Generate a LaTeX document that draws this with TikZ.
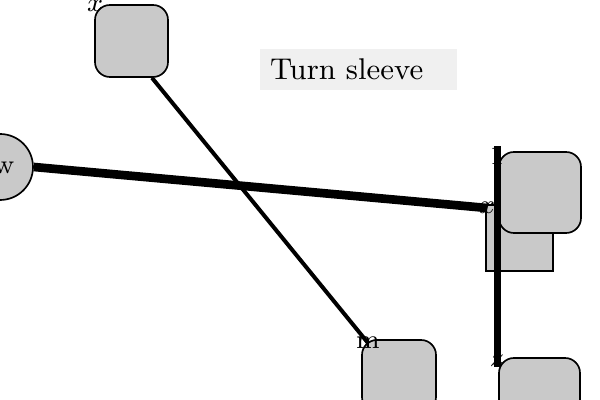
\documentclass[tikz,border=0pt]{standalone}
\usetikzlibrary{calc}
\begin{document}
\begin{tikzpicture}[x=0.3pt,y=-0.3pt,
  box/.style={draw=black,line width=0.5pt,fill=black!21,rounded corners=4.5pt,inner sep=0pt},
  plainbox/.style={draw=black,line width=0.5pt,fill=black!21,inner sep=0pt},
  lab/.style={inner sep=0pt,font=\fontsize{8}{9}\selectfont},
  conn/.style={line width=#1,draw=black}]
\useasboundingbox (0,0) rectangle (600,400);
% nodes
\node[box,minimum width=21.9pt,minimum height=21.6pt] (A) at (131.5,41) {};
\node[draw=black,line width=0.5pt,fill=black!21,circle,minimum size=19.8pt,inner sep=0pt] (W) at (0,167) {};
\node[plainbox,minimum width=20.1pt,minimum height=19.8pt] (S) at (519.5,238) {};
\node[box,minimum width=24.6pt,minimum height=24.3pt] (B) at (540,192.5) {};
\node[box,minimum width=22.2pt,minimum height=21.6pt] (C) at (399,376) {};
\node[box,minimum width=24.3pt,minimum height=24.3pt] (D) at (539.5,398.5) {};
\node[fill=black!6,minimum width=59.1pt,minimum height=11.7pt,text width=53.1pt,inner sep=3pt,align=left,font=\fontsize{9}{10}\selectfont] (T) at (358.5,69.5) {Turn sleeve};
% label anchors
\node[lab] (lx) at (95,6) {$x$};
\node[lab] (lw) at (4,168) {w};
\node[lab] (lxr) at (487,208) {$x$};
\node[lab] (l1) at (497,156) {1};
\node[lab] (lz) at (497,361) {$z$};
\node[lab] (lm) at (368,343) {m};
% connectors
\draw[conn=2.6pt] (W.east) -- (lxr.center);
\draw[conn=1.2pt] ($(A.south)+(20.5,0)$) -- (lm.center);
\draw[conn=2.1pt] (l1.north) -- (lz.south);
\end{tikzpicture}
\end{document}
